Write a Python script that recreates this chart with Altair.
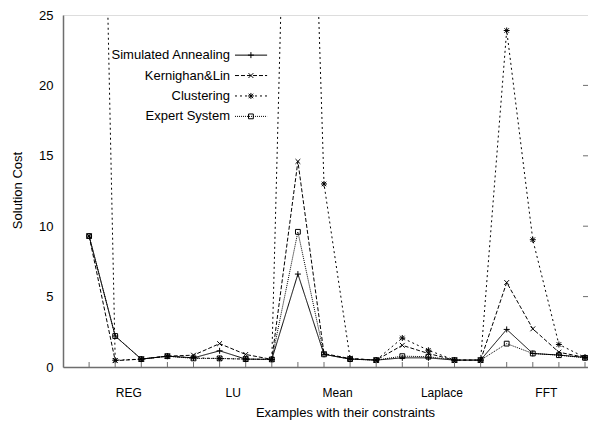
import altair as alt
import pandas as pd

# ---- data ----
series_names = ["Simulated Annealing", "Kernighan&Lin", "Clustering", "Expert System"]
idx = list(range(1, 21))
sa = [9.3, 2.2, 0.56, 0.77, 0.65, 1.15, 0.56, 0.54, 6.6, 0.9, 0.56, 0.49, 0.65, 0.65, 0.49, 0.49, 2.67, 0.96, 0.85, 0.68]
kl = [9.3, 0.45, 0.56, 0.77, 0.84, 1.66, 0.89, 0.54, 14.6, 0.95, 0.6, 0.49, 1.54, 0.96, 0.49, 0.49, 6.0, 2.71, 1.05, 0.68]
cl = [88.0, 0.48, 0.56, 0.77, 0.65, 0.6, 0.56, 0.54, 72.0, 13.0, 0.6, 0.49, 2.06, 1.19, 0.49, 0.49, 23.9, 9.04, 1.6, 0.68]
es = [9.3, 2.2, 0.56, 0.77, 0.61, 0.61, 0.56, 0.54, 9.6, 0.9, 0.56, 0.49, 0.77, 0.73, 0.49, 0.49, 1.66, 0.96, 0.84, 0.65]
categories = ["REG", "LU", "Mean", "Laplace", "FFT"]
category_pos = [2.5, 6.5, 10.5, 14.5, 18.5]
y_ticks = [0, 5, 10, 15, 20, 25]

rows = []
for name, vals in zip(series_names, [sa, kl, cl, es]):
    for i, v in zip(idx, vals):
        rows.append({"idx": i, "value": v, "series": name})
df = pd.DataFrame(rows)

# legend layout (in data units)
leg = pd.DataFrame({
    "series": series_names,
    "ly": [22.15, 20.7, 19.25, 17.8],
    "tx": [6.40] * 4,
    "lx1": [6.59] * 4,
    "lx2": [7.82] * 4,
    "mx": [7.2] * 4,
})

FONT = "Liberation Sans"
W, H = 525, 352
XDOM = [0, W / 26.1]
GRAY = "#6e6e6e"

dash_scale = alt.Scale(domain=series_names, range=[[1, 0], [4, 2], [2, 3], [1, 1]])
shape_scale = alt.Scale(
    domain=series_names,
    range=[
        "M-1,0L1,0M0,-1L0,1",
        "M-0.8,-0.8L0.8,0.8M-0.8,0.8L0.8,-0.8",
        "M-1,0L1,0M0,-1L0,1M-0.75,-0.75L0.75,0.75M-0.75,0.75L0.75,-0.75",
        "M-0.8,-0.8L0.8,-0.8L0.8,0.8L-0.8,0.8Z",
    ],
)
xs = alt.Scale(domain=XDOM, nice=False, zero=False)
ys = alt.Scale(domain=[0, 25], nice=False)

base = alt.Chart(df)

lines = base.mark_line(clip=True, strokeWidth=1, color="black").encode(
    x=alt.X("idx:Q", scale=xs,
            axis=alt.Axis(values=category_pos,
                          labelExpr="['REG','LU','Mean','Laplace','FFT'][floor(datum.value/4)]",
                          tickSize=0, grid=False, labelFontSize=12, labelFont=FONT,
                          labelColor="black", labelPadding=20, domainColor=GRAY,
                          domainWidth=1.5,
                          title="Examples with their constraints", titleFont=FONT,
                          titleFontSize=13, titleFontWeight="normal", titleColor="black",
                          titleX=282, titleY=45, titleBaseline="middle")),
    y=alt.Y("value:Q", scale=ys,
            axis=alt.Axis(values=y_ticks, tickSize=0, grid=False, labelFontSize=13,
                          labelFont=FONT, labelColor="black", labelPadding=10,
                          domainColor=GRAY, domainWidth=1.5,
                          title="Solution Cost", titleFont=FONT, titleFontSize=13,
                          titleFontWeight="normal", titleColor="black",
                          titleX=-46, titleY=175, titleBaseline="middle")),
    strokeDash=alt.StrokeDash("series:N", scale=dash_scale, legend=None),
    detail="series:N",
)

points = base.mark_point(clip=True, filled=False, size=36, strokeWidth=1, color="black", opacity=1).encode(
    x=alt.X("idx:Q", scale=xs),
    y=alt.Y("value:Q", scale=ys),
    shape=alt.Shape("series:N", scale=shape_scale, legend=None),
)

# inward ticks on bottom and right
tick_df = pd.DataFrame({"idx": idx})
bottom_ticks = alt.Chart(tick_df).mark_rule(color=GRAY, strokeWidth=1).encode(
    x=alt.X("idx:Q", scale=xs), y=alt.value(H), y2=alt.value(H - 5)
)
rt_df = pd.DataFrame({"v": y_ticks[1:-1]})
right_ticks = alt.Chart(rt_df).mark_rule(color=GRAY, strokeWidth=1).encode(
    y=alt.Y("v:Q", scale=ys), x=alt.value(W), x2=alt.value(W - 5)
)

# legend
lbase = alt.Chart(leg)
leg_text = lbase.mark_text(align="right", baseline="middle", font=FONT, fontSize=13, color="black").encode(
    x=alt.X("tx:Q", scale=xs), y=alt.Y("ly:Q", scale=ys), text="series:N"
)
leg_line = lbase.mark_rule(strokeWidth=1, color="black").encode(
    x=alt.X("lx1:Q", scale=xs), x2="lx2:Q", y=alt.Y("ly:Q", scale=ys),
    strokeDash=alt.StrokeDash("series:N", scale=dash_scale, legend=None),
)
leg_pt = lbase.mark_point(filled=False, size=36, strokeWidth=1, color="black", opacity=1).encode(
    x=alt.X("mx:Q", scale=xs), y=alt.Y("ly:Q", scale=ys),
    shape=alt.Shape("series:N", scale=shape_scale, legend=None),
)

chart = alt.layer(lines, points, bottom_ticks, right_ticks, leg_line, leg_pt, leg_text).properties(
    width=W, height=H,
    autosize=alt.AutoSizeParams(type="none"),
    padding={"left": 55, "top": 7, "right": 0, "bottom": 60},
).configure_view(stroke=GRAY, strokeWidth=1.5).configure(background="white")

chart.save("out.html", embed_options={"renderer": "svg", "actions": False})
